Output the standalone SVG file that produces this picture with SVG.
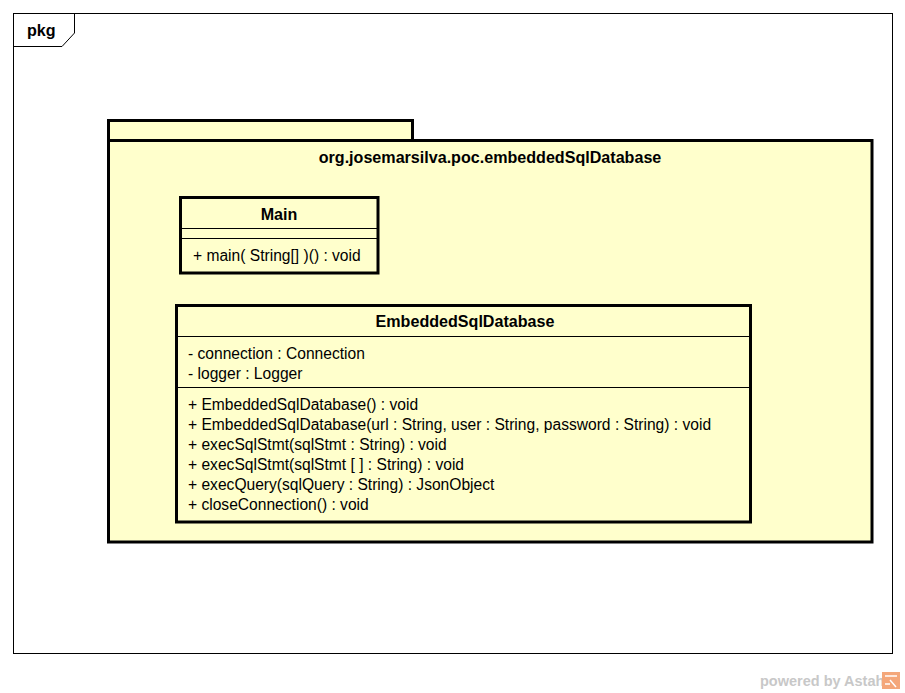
<svg xmlns="http://www.w3.org/2000/svg" width="905" height="693" viewBox="0 0 905 693">
<style>
.t{font-family:"Liberation Sans",Arial,sans-serif;font-size:15.6px;fill:#000}
.b{font-family:"Liberation Sans",Arial,sans-serif;font-size:16.1px;font-weight:bold;fill:#000}
.box{fill:#ffffcc;stroke:#000;stroke-width:3}
.sep{stroke:#000;stroke-width:1}
</style>
<rect x="0" y="0" width="905" height="693" fill="#fff"/>
<g id="frame">
<rect x="13.5" y="13.5" width="879" height="640" fill="none" stroke="#000" stroke-width="1"/>
<path d="M13.5 46.5 H62 L74.5 33 V13.5" fill="none" stroke="#000" stroke-width="1"/>
<text class="b" x="27" y="36">pkg</text>
</g>
<g id="package">
<rect class="box" x="108.5" y="120.5" width="304" height="20"/>
<rect class="box" x="108.5" y="140.5" width="763.5" height="401.5"/>
<text class="b" x="490" y="163" text-anchor="middle">org.josemarsilva.poc.embeddedSqlDatabase</text>
</g>
<g id="Main">
<rect class="box" x="180.5" y="197.5" width="197.5" height="75.5"/>
<line class="sep" x1="181" y1="228.5" x2="377" y2="228.5"/>
<line class="sep" x1="181" y1="238.5" x2="377" y2="238.5"/>
<text class="b" x="279" y="220" text-anchor="middle">Main</text>
<text class="t" x="193" y="261">+ main( String[] )() : void</text>
</g>
<g id="EmbeddedSqlDatabase">
<rect class="box" x="176.5" y="305.5" width="574" height="216.5"/>
<line class="sep" x1="177" y1="336.5" x2="750" y2="336.5"/>
<line class="sep" x1="177" y1="387.5" x2="750" y2="387.5"/>
<text class="b" x="465" y="327" text-anchor="middle">EmbeddedSqlDatabase</text>
<text class="t" x="188" y="359">- connection : Connection</text>
<text class="t" x="188" y="379">- logger : Logger</text>
<text class="t" x="188" y="410">+ EmbeddedSqlDatabase() : void</text>
<text class="t" x="188" y="430">+ EmbeddedSqlDatabase(url : String, user : String, password : String) : void</text>
<text class="t" x="188" y="450">+ execSqlStmt(sqlStmt : String) : void</text>
<text class="t" x="188" y="470">+ execSqlStmt(sqlStmt [ ] : String) : void</text>
<text class="t" x="188" y="490">+ execQuery(sqlQuery : String) : JsonObject</text>
<text class="t" x="188" y="510">+ closeConnection() : void</text>
</g>
<g id="connectors"></g>
<g id="watermark">
<text x="760" y="686" font-family="'Liberation Sans',Arial,sans-serif" font-size="14.5" font-weight="bold" fill="#c8c8c8">powered by Astah</text>
<rect x="882" y="672" width="18" height="17" fill="#f4a77a"/>
<path d="M885 676 H897 M890 680 L896 687 M885 684 H890" stroke="#fff" stroke-width="1.5" fill="none"/>
</g>
</svg>
